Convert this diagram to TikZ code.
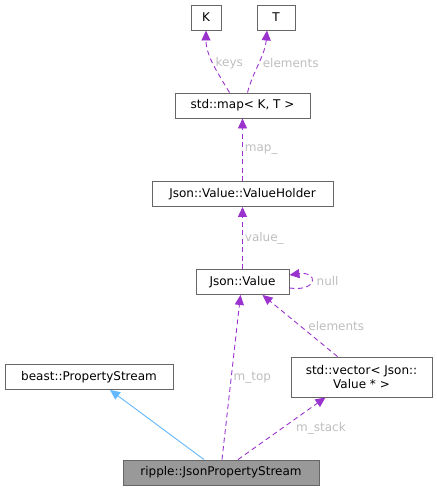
\documentclass[tikz,border=0pt]{standalone}
\usepackage{fontspec}
\setmainfont{DejaVu Sans}
\usetikzlibrary{arrows.meta}

\definecolor{orchid}{HTML}{9A32CD}
\definecolor{skyblue}{HTML}{63B8FF}
\definecolor{lblgrey}{HTML}{BEBEBE}
\definecolor{boxline}{HTML}{666666}
\definecolor{boxfill}{HTML}{999999}

\tikzset{
	cls/.style={draw=boxline, line width=0.9pt, fill=white, minimum height=25pt, inner sep=0pt, font=\fontsize{12}{14}\selectfont},
	uses/.style={draw=orchid, line width=0.9pt, dash pattern=on 5pt off 3.5pt, -{Triangle[length=10pt,width=9pt]}},
	inherits/.style={draw=skyblue, line width=0.9pt, -{Triangle[length=10pt,width=9pt]}},
	lbl/.style={text=lblgrey, font=\fontsize{12}{14}\selectfont, inner sep=2pt}
}

\begin{document}
\begin{tikzpicture}[x=1pt, y=-1pt]
	\useasboundingbox (0,0) rectangle (437,491);
	\node[cls, minimum width=30pt] (K) at (206,17.5) {K};
	\node[cls, minimum width=38pt] (T) at (276,17.5) {T};
	\node[cls, minimum width=135pt] (map) at (242.5,105.5) {std::map< K, T >};
	\node[cls, minimum width=181pt] (holder) at (242.5,194) {Json::Value::ValueHolder};
	\node[cls, minimum width=93pt] (val) at (242.5,282) {Json::Value};
	\node[cls, minimum width=168pt] (beast) at (89,377) {beast::PropertyStream};
	\node[cls, minimum width=141pt, minimum height=40pt, align=center] (vec) at (361.5,377) {std::vector< Json::\\Value * >};
	\node[cls, fill=boxfill, minimum width=196pt] (ripple) at (221,472.5) {ripple::JsonPropertyStream};

	\draw[uses] ([xshift=-13pt]map.north) .. controls +(-12pt,20pt) and +(0pt,-25pt) .. (K.south)
		node[lbl, pos=0.5, right] {keys};
	\draw[uses] ([xshift=5pt]map.north) .. controls +(5pt,20pt) and +(-2pt,-25pt) .. ([xshift=-9pt]T.south)
		node[lbl, pos=0.5, right, xshift=2pt] {elements};
	\draw[uses] (holder) -- (map) node[lbl, midway, right] {map\_};
	\draw[uses] (val) -- (holder) node[lbl, midway, right] {value\_};
	\draw[uses] ([yshift=-6pt]val.east) .. controls +(29pt,-4pt) and +(29pt,4pt) .. ([yshift=7pt]val.east)
		node[lbl, pos=0.5, right, xshift=3pt] {null};
	\draw[uses] ([xshift=-24pt]vec.north) -- ([xshift=20pt]val.south)
		node[lbl, midway, right, xshift=6pt] {elements};
	\draw[uses] ([xshift=1pt]ripple.north) -- ([xshift=-2pt]val.south)
		node[lbl, pos=0.5, right] {m\_top};
	\draw[uses] ([xshift=17pt]ripple.north) -- ([xshift=-36pt]vec.south)
		node[lbl, pos=0.5, right, xshift=12pt] {m\_stack};
	\draw[inherits] ([xshift=-17pt]ripple.north) -- ([xshift=21pt]beast.south);
\end{tikzpicture}
\end{document}
